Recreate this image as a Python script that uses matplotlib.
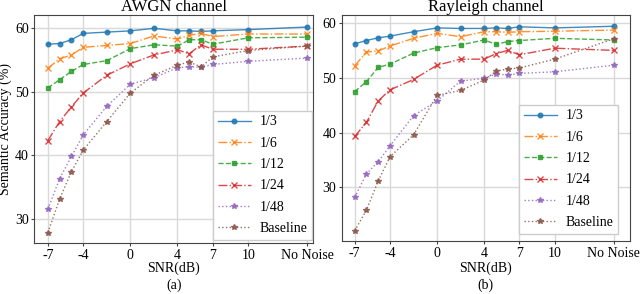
import matplotlib
matplotlib.use("Agg")
import matplotlib.pyplot as plt
import numpy as np

plt.rcParams['font.family'] = ['Liberation Serif', 'DejaVu Serif']

snr_pos = [-7, -6, -5, -4, -2, 0, 2, 4, 5, 6, 7, 10, 15]
tick_pos = [-7, -4, 0, 4, 7, 10, 15]
tick_labels = ['-7', '-4', '0', '4', '7', '10', 'No Noise']

labels = ['1/3', '1/6', '1/12', '1/24', '1/48', 'Baseline']

awgn_13 = [57.5, 57.6, 58.2, 59.2, 59.4, 59.6, 60.0, 59.6, 59.6, 59.5, 59.6, 59.8, 60.2]
awgn_16 = [53.7, 55.2, 55.8, 57.0, 57.3, 57.6, 58.8, 58.3, 58.9, 59.2, 58.7, 59.1, 59.1]
awgn_112 = [50.6, 51.9, 53.2, 54.3, 54.9, 56.8, 57.4, 57.2, 58.2, 58.2, 57.5, 58.5, 58.6]
awgn_124 = [42.3, 45.3, 47.6, 49.8, 52.6, 54.4, 55.8, 56.6, 56.0, 57.4, 56.7, 56.7, 57.2]
awgn_148 = [31.5, 36.3, 39.8, 43.2, 47.7, 51.2, 52.2, 53.8, 53.9, 53.9, 54.3, 54.8, 55.3]
awgn_base = [27.8, 33.1, 37.4, 40.8, 45.3, 49.8, 52.6, 54.2, 54.7, 53.9, 55.5, 56.5, 57.2]

ray_13 = [56.2, 56.8, 57.3, 57.6, 58.4, 59.1, 59.0, 59.0, 59.1, 59.0, 59.3, 59.1, 59.4]
ray_16 = [52.2, 54.7, 54.9, 55.8, 57.2, 58.1, 57.5, 58.4, 58.4, 58.3, 58.4, 58.5, 58.7]
ray_112 = [47.5, 49.3, 51.9, 52.5, 54.5, 55.5, 56.0, 56.9, 56.1, 56.6, 56.8, 57.2, 56.9]
ray_124 = [39.3, 41.9, 45.8, 47.8, 49.7, 52.3, 53.4, 53.4, 54.4, 55.0, 54.2, 55.4, 55.0]
ray_148 = [28.2, 32.5, 34.7, 37.6, 43.1, 45.8, 49.4, 49.9, 50.7, 50.5, 50.8, 51.1, 52.3]
ray_base = [22.1, 25.9, 31.2, 35.6, 39.6, 46.8, 47.7, 49.6, 51.2, 51.6, 51.8, 53.4, 57.1]

styles = [
    dict(color='#1f77b4', ls='-', marker='o', ms=3.3),
    dict(color='#ff7f0e', ls='-.', marker='x', ms=3.8),
    dict(color='#2ca02c', ls='--', marker='s', ms=3.3),
    dict(color='#d62728', ls='-.', marker='x', ms=3.8),
    dict(color='#9467bd', ls=':', marker='*', ms=3.8),
    dict(color='#8c564b', ls=':', marker='*', ms=3.8),
]

W, H = 640, 294
fig = plt.figure(figsize=(6.4, 2.94), dpi=100)
ax1 = fig.add_axes([0.0536, 0.1745, 0.4355, 0.7745])
ax2 = fig.add_axes([0.534, 0.1813, 0.4505, 0.7667])

def draw(ax, series, title, sub, ylabel, leg_anchor):
    for vals, lab, st in zip(series, labels, styles):
        ax.plot(snr_pos, vals, label=lab, lw=1.0, alpha=0.85, **st)
    ax.set_xticks(tick_pos)
    ax.set_xticklabels(tick_labels, fontsize=10)
    ax.set_yticks([30, 40, 50, 60])
    ax.tick_params(axis='y', labelsize=10, pad=1.5)
    ax.tick_params(axis='x', pad=2)
    ax.grid(True, color='#d9d9d9', lw=1.0)
    ax.set_axisbelow(True)
    ax.set_title(title, fontsize=12, pad=1.5)
    pos = ax.get_position()
    xc = (pos.x0 + pos.x1) / 2
    ax.set_xlabel('SNR(dB)', fontsize=10, va='center')
    ax.xaxis.set_label_coords(xc, 1 - 268 / H, transform=fig.transFigure)
    fig.text(xc, 1 - 285 / H, sub, fontsize=10, ha='center', va='center')
    if ylabel:
        ax.set_ylabel(ylabel, fontsize=10)
        ax.yaxis.set_label_coords(12.5 / W, (pos.y0 + pos.y1) / 2, transform=fig.transFigure)
    for s in ax.spines.values():
        s.set_color('#444444')
    ax.tick_params(length=2.5, color='#444444')
    ax.legend(loc='lower right', fontsize=10, handlelength=2.4, handletextpad=0.6,
              borderpad=0.35, labelspacing=0.6, borderaxespad=0,
              bbox_to_anchor=(leg_anchor[0] / W, 1 - leg_anchor[1] / H),
              bbox_transform=fig.transFigure,
              fancybox=False, edgecolor='#cccccc', framealpha=1.0)

draw(ax1, [awgn_13, awgn_16, awgn_112, awgn_124, awgn_148, awgn_base], 'AWGN channel', '(a)',
     'Semantic Accuracy (%)', (312, 240))
draw(ax2, [ray_13, ray_16, ray_112, ray_124, ray_148, ray_base], 'Rayleigh channel', '(b)',
     None, (618, 234))
ax1.set_xlim(-8.15, 15.5)
ax1.set_ylim(26.2, 62.1)
ax2.set_xlim(-8.1, 16.4)
ax2.set_ylim(20.3, 61.4)

fig.savefig('out.png', dpi=100)
